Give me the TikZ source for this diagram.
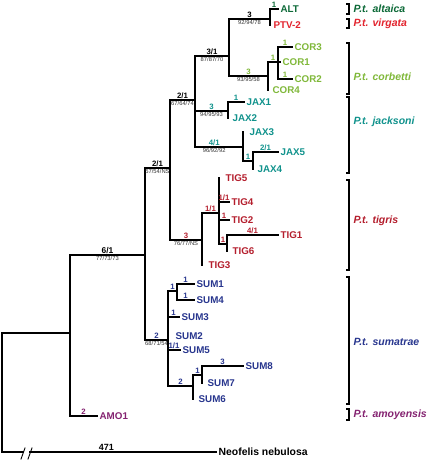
\documentclass[tikz,border=0pt]{standalone}
\usepackage{fontspec}
\setmainfont{Liberation Sans}
\usetikzlibrary{calc, positioning}
\definecolor{altgreen}{RGB}{12,105,55}
\definecolor{virred}{RGB}{226,36,46}
\definecolor{corgreen}{RGB}{128,184,58}
\definecolor{jaxteal}{RGB}{16,146,140}
\definecolor{tigred}{RGB}{180,30,45}
\definecolor{sumblue}{RGB}{40,54,142}
\definecolor{amopurple}{RGB}{132,34,112}

\begin{document}
\begin{tikzpicture}[x=1pt, y=-1pt, line width=1.3pt, line cap=rect,
    tip/.style={anchor=west, inner sep=2pt, font=\fontsize{9.8}{10}\selectfont\bfseries},
    supp/.style={above, inner sep=1pt, font=\fontsize{7.8}{8}\selectfont\bfseries},
    boot/.style={below, inner sep=1pt, font=\fontsize{5.8}{6}\selectfont, black!80},
    ssp/.style={anchor=west, inner sep=0pt, font=\fontsize{10.5}{11}\selectfont\bfseries\itshape},
    bkt/.style={line width=1.4pt, line cap=butt}]
\useasboundingbox (0,0) rectangle (440,460);

\coordinate (r) at (2,333);
\coordinate (a) at (70,333);
\coordinate (b) at (145,255);
\coordinate (c) at (170,168);
\coordinate (d) at (195,100);
\coordinate (e) at (229,56);
\coordinate (f) at (270,19);
\coordinate (g) at (268,76);
\coordinate (h) at (278,62);
\coordinate (j1) at (228,111);
\coordinate (j2) at (243,147);
\coordinate (k) at (253,161);
\coordinate (t) at (202,240);
\coordinate (u) at (219,213);
\coordinate (v) at (227,244);
\coordinate (s) at (168,340);
\coordinate (sw) at (177,291);
\coordinate (sx) at (193,386);
\coordinate (sy) at (202,375);
\coordinate (brkl) at (23,452);
\coordinate (brkr) at (30,452);

\node[tip, altgreen] (alt) at (278,9) {ALT};
\node[tip, virred] (ptv) at (271,25) {PTV-2};
\node[tip, corgreen] (cor3) at (292,47) {COR3};
\node[tip, corgreen] (cor1) at (280,62) {COR1};
\node[tip, corgreen] (cor2) at (292,79) {COR2};
\node[tip, corgreen] (cor4) at (270,90) {COR4};
\node[tip, jaxteal] (jax1) at (244,102) {JAX1};
\node[tip, jaxteal] (jax2) at (230,118) {JAX2};
\node[tip, jaxteal] (jax3) at (247,132) {JAX3};
\node[tip, jaxteal] (jax5) at (278,152) {JAX5};
\node[tip, jaxteal] (jax4) at (255,169) {JAX4};
\node[tip, tigred] (tig5) at (223,178) {TIG5};
\node[tip, tigred] (tig4) at (229,202) {TIG4};
\node[tip, tigred] (tig2) at (229,220) {TIG2};
\node[tip, tigred] (tig1) at (278,235) {TIG1};
\node[tip, tigred] (tig6) at (230,251) {TIG6};
\node[tip, tigred] (tig3) at (206,265) {TIG3};
\node[tip, sumblue] (sum1) at (194,284) {SUM1};
\node[tip, sumblue] (sum4) at (194,300) {SUM4};
\node[tip, sumblue] (sum3) at (179,317) {SUM3};
\node[tip, sumblue] (sum2) at (173,336) {SUM2};
\node[tip, sumblue] (sum5) at (180,350) {SUM5};
\node[tip, sumblue] (sum8) at (243,366) {SUM8};
\node[tip, sumblue] (sum7) at (205,383) {SUM7};
\node[tip, sumblue] (sum6) at (196,399) {SUM6};
\node[tip, amopurple] (amo1) at (97,416) {AMO1};
\node[tip, font=\fontsize{10.4}{11}\selectfont\bfseries] (neo) at (216,452) {Neofelis nebulosa};

\draw (r) -- (a);
\draw (r) |- (brkl);
\draw (brkr) -- node[supp, pos=0.41, font=\fontsize{9}{10}\selectfont\bfseries] {471} (neo.west);
\draw[line width=0.9pt] ([shift={(-2,7)}]brkl) -- ([shift={(2,-4)}]brkl);
\draw[line width=0.9pt] ([shift={(-2,7)}]brkr) -- ([shift={(2,-4)}]brkr);

\draw (a) |- node[supp, pos=.75, font=\fontsize{8.4}{9}\selectfont\bfseries] {6/1} node[boot, pos=.75] {77/73/73} (b);
\draw (a) |- node[supp, pos=.75, amopurple] {2} (amo1.west);
\draw (b) |- node[supp, pos=.75] {2/1} node[boot, pos=.75] {57/54/NS} (c);
\draw (b) |- node[supp, pos=.75, sumblue] {2} node[boot, pos=.75] {68/71/54} (s);
\draw (c) |- node[supp, pos=.75] {2/1} node[boot, pos=.75] {67/64/74} (d);
\draw (c) |- node[supp, pos=.75, tigred] {3} node[boot, pos=.75] {76/77/NS} (t);
\draw (d) |- node[supp, pos=.75] {3/1} node[boot, pos=.75] {87/87/70} (e);
\draw (d) |- node[supp, pos=.75, jaxteal] {3} node[boot, pos=.75] {94/95/93} (j1);
\draw (d) |- node[supp, pos=.7, jaxteal] {4/1} node[boot, pos=.7] {96/92/92} (j2);
\draw (e) |- node[supp, pos=.75] {3} node[boot, pos=.75] {92/94/78} (f);
\draw (e) |- node[supp, pos=.75, corgreen] {3} node[boot, pos=.75] {93/95/58} (g);
\draw (f) |- node[supp, pos=.75, altgreen] {1} (alt.west);
\draw (f) -- (f |- ptv.west);
\draw (g) |- node[supp, pos=.75, corgreen] {1} (h);
\draw (g) -- (g |- cor4.west);
\draw (h) |- node[supp, pos=.75, corgreen] {1} (cor3.west);
\draw (h) -- (cor1.west);
\draw (h) |- node[supp, pos=.75, corgreen] {1} (cor2.west);
\draw (j1) |- node[supp, pos=.75, jaxteal] {1} (jax1.west);
\draw (j1) -- (j1 |- jax2.west);
\draw (j2) -- (j2 |- jax3.west);
\draw (j2) |- node[supp, pos=.75, jaxteal] {1} (k);
\draw (k) |- node[supp, pos=.75, jaxteal] {2/1} (jax5.west);
\draw (k) -- (k |- jax4.west);
\draw (t) |- node[supp, pos=.75, tigred] {1/1} (u);
\draw (t) -- (t |- tig3.west);
\draw (u) -- (u |- tig5.west);
\draw (u) |- node[supp, pos=.75, tigred] {1/1} (tig4.west);
\draw (u) |- node[supp, pos=.75, tigred] {1} (tig2.west);
\draw (u) |- node[supp, pos=.75, tigred] {1} (v);
\draw (v) |- node[supp, pos=.75, tigred] {4/1} (tig1.west);
\draw (v) -- (v |- tig6.west);
\draw (s) |- node[supp, pos=.75, sumblue] {1} (sw);
\draw (s) |- node[supp, pos=.75, sumblue] {1} (sum3.west);
\draw (s) -- (s |- sum2.west);
\draw (s) |- node[supp, pos=.75, sumblue] {1/1} (sum5.west);
\draw (s) |- node[supp, pos=.75, sumblue] {2} (sx);
\draw (sw) |- node[supp, pos=.75, sumblue] {1} (sum1.west);
\draw (sw) |- node[supp, pos=.75, sumblue] {1} (sum4.west);
\draw (sx) |- node[supp, pos=.75, sumblue] {1} (sy);
\draw (sx) -- (sx |- sum6.west);
\draw (sy) |- node[supp, pos=.75, sumblue] {3} (sum8.west);
\draw (sy) -- (sy |- sum7.west);

\draw[bkt] (346,4) -| (349,14) -- (346,14);
\node[ssp, altgreen] (laltaica) at (353,9) {P.t. altaica};
\draw[bkt] (346,19) -| (349,28) -- (346,28);
\node[ssp, virred] (lvirgata) at (353,24) {P.t. virgata};
\draw[bkt] (346,43) -| (349,94) -- (346,94);
\node[ssp, corgreen] (lcorbetti) at (353,77) {P.t. corbetti};
\draw[bkt] (346,97) -| (349,173) -- (346,173);
\node[ssp, jaxteal] (ljacksoni) at (353,122) {P.t. jacksoni};
\draw[bkt] (346,180) -| (349,270) -- (346,270);
\node[ssp, tigred] (ltigris) at (353,221) {P.t. tigris};
\draw[bkt] (346,277) -| (349,404) -- (346,404);
\node[ssp, sumblue] (lsumatrae) at (353,342) {P.t. sumatrae};
\draw[bkt] (346,409) -| (349,420) -- (346,420);
\node[ssp, amopurple] (lamoyensis) at (353,415) {P.t. amoyensis};
\end{tikzpicture}
\end{document}
